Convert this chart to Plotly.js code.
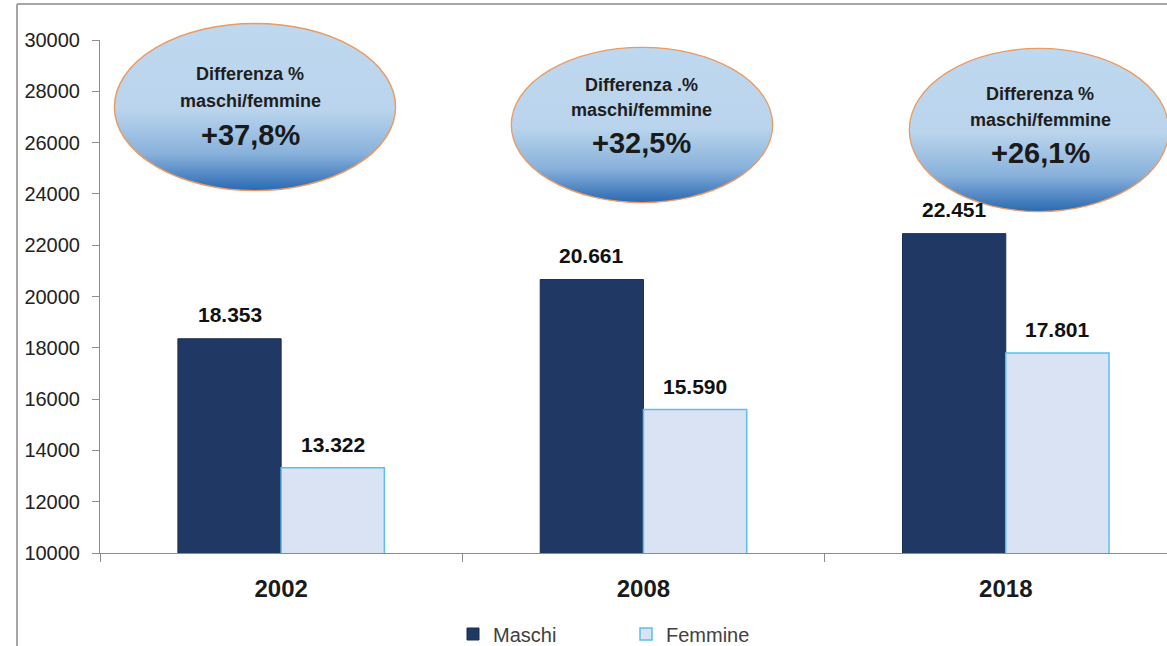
<!DOCTYPE html>
<html>
<head>
<meta charset="utf-8">
<script src="https://cdn.plot.ly/plotly-3.0.1.min.js"></script>
<style>html,body{margin:0;padding:0;background:#fff;}#chart{width:1167px;height:646px;}</style>
</head>
<body>
<div id="chart"></div>
<script>
// ---- data ----
var years = ['2002', '2008', '2018'];
var maschi = [18353, 20661, 22451];
var femmine = [13322, 15590, 17801];
var seriesNames = ['Maschi', 'Femmine'];
var diffTitles = ['Differenza %', 'Differenza .%', 'Differenza %'];
var diffSub = ['maschi/femmine', 'maschi/femmine', 'maschi/femmine'];
var diffValues = ['+37,8%', '+32,5%', '+26,1%'];

// ---- layout helpers ----
var FONT = 'Liberation Sans, Arial, sans-serif';
var L = 100, T = 40, W = 1167, H = 646, B = 93;
var plotW = W - L, plotH = H - T - B;
function px(x) { return (x - L) / plotW; }
function py(y) { return (T + plotH - y) / plotH; }

var ellipseSvg = 'data:image/svg+xml;charset=utf-8,' + encodeURIComponent(
  '<svg xmlns="http://www.w3.org/2000/svg" width="400" height="240" viewBox="0 0 400 240" preserveAspectRatio="none">' +
  '<defs><linearGradient id="g" x1="0" y1="0" x2="0" y2="1">' +
  '<stop offset="0" stop-color="#bed8ef"/><stop offset="0.52" stop-color="#b9d4ec"/>' +
  '<stop offset="0.78" stop-color="#88b1db"/><stop offset="1" stop-color="#2a69b2"/>' +
  '</linearGradient></defs>' +
  '<ellipse cx="200" cy="120" rx="198" ry="118" fill="url(#g)" stroke="#ec9a62" stroke-width="2"/></svg>');

// ellipse boxes (pixel geometry)
var ellBoxes = [[113, 22, 284, 170], [510, 46, 264, 158], [908, 47, 262, 166]];
var ellText = [[250, 74, 101, 135], [641, 85, 110, 143], [1040, 94, 120, 153]];

var images = ellBoxes.map(function (b) {
  return { source: ellipseSvg, xref: 'paper', yref: 'paper', x: px(b[0]), y: py(b[1]),
           sizex: b[2] / plotW, sizey: b[3] / plotH, xanchor: 'left', yanchor: 'top',
           sizing: 'stretch', layer: 'above' };
});

function ann(o) { o.showarrow = false; o.xanchor = 'center'; o.yanchor = 'middle'; return o; }

var annotations = [];
for (var i = 0; i < 3; i++) {
  var t = ellText[i];
  annotations.push(ann({ xref: 'paper', yref: 'paper', x: px(t[0]), y: py(t[1]), text: diffTitles[i],
    font: { family: FONT, size: 18, color: '#1e1e1e', weight: 'bold' } }));
  annotations.push(ann({ xref: 'paper', yref: 'paper', x: px(t[0]), y: py(t[2]), text: diffSub[i],
    font: { family: FONT, size: 18, color: '#1e1e1e', weight: 'bold' } }));
  annotations.push(ann({ xref: 'paper', yref: 'paper', x: px(t[0]), y: py(t[3]), text: diffValues[i],
    font: { family: FONT, size: 29, color: '#1a1a1a', weight: 'bold' } }));
}
// value labels above bars
function fmt(v) { return String(v).replace(/\B(?=(\d{3})+(?!\d))/g, '.'); }
for (var j = 0; j < years.length; j++) {
  annotations.push(ann({ x: j, y: maschi[j], xref: 'x', yref: 'y', xshift: -51.5, yshift: 24,
    text: fmt(maschi[j]), font: { family: FONT, size: 21, color: '#111', weight: 'bold' } }));
  annotations.push(ann({ x: j, y: femmine[j], xref: 'x', yref: 'y', xshift: 51.5, yshift: 23,
    text: fmt(femmine[j]), font: { family: FONT, size: 21, color: '#111', weight: 'bold' } }));
}

var traces = [
  { type: 'bar', name: seriesNames[0], x: years, y: maschi,
    marker: { color: '#203864', line: { color: '#1a2d52', width: 1 } }, hoverinfo: 'none' },
  { type: 'bar', name: seriesNames[1], x: years, y: femmine,
    marker: { color: '#dae3f3', line: { color: '#5cbfee', width: 1.5 } }, hoverinfo: 'none' }
];

var layout = {
  width: W, height: H,
  margin: { l: L, r: 0, t: T, b: B, pad: 0, autoexpand: false },
  paper_bgcolor: '#ffffff', plot_bgcolor: '#ffffff',
  barmode: 'group', bargap: 0.43, bargroupgap: 0,
  separators: ',.',
  showlegend: true,
  legend: { orientation: 'h', x: px(453), xanchor: 'left', y: py(634), yanchor: 'middle',
            entrywidth: 128, entrywidthmode: 'pixels',
            font: { family: FONT, size: 20, color: '#404040' }, bgcolor: 'rgba(0,0,0,0)' },
  xaxis: { type: 'category', range: [-0.5, 2.445], showgrid: false, zeroline: false,
           showline: true, linecolor: '#8c8c8c', linewidth: 1,
           ticks: 'outside', tickson: 'boundaries', ticklen: 8, tickcolor: '#8c8c8c',
           ticklabelstandoff: 14,
           tickfont: { family: FONT, size: 24, color: '#1a1a1a', weight: 'bold' } },
  yaxis: { range: [10000, 30000], dtick: 2000, showgrid: false, zeroline: false,
           showline: true, linecolor: '#8c8c8c', linewidth: 1,
           ticks: 'outside', ticklen: 7, tickcolor: '#8c8c8c', ticklabelstandoff: 8,
           tickformat: 'd',
           tickfont: { family: FONT, size: 20, color: '#222' } },
  images: images,
  annotations: annotations,
  shapes: [
    { type: 'line', xref: 'paper', yref: 'paper', x0: px(17), x1: px(1180), y0: py(4), y1: py(4),
      line: { color: '#a6a6a6', width: 2 } },
    { type: 'line', xref: 'paper', yref: 'paper', x0: px(17), x1: px(17), y0: py(4), y1: py(660),
      line: { color: '#a6a6a6', width: 2 } }
  ]
};

Plotly.newPlot('chart', traces, layout, { displayModeBar: false, staticPlot: true });
</script>
</body>
</html>
